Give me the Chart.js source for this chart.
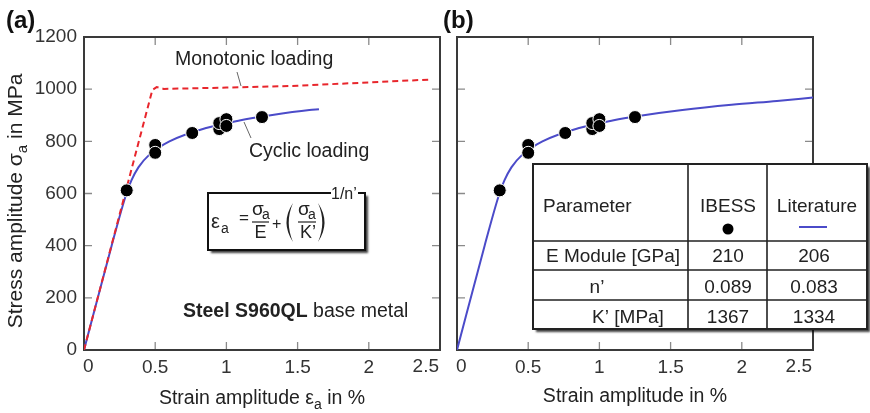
<!DOCTYPE html>
<html>
<head>
<meta charset="utf-8">
<script src="https://cdn.jsdelivr.net/npm/chart.js@4.4.1/dist/chart.umd.min.js"></script>
<style>
  html, body { margin: 0; padding: 0; background: #fff; }
  #wrap { position: relative; width: 870px; height: 413px; }
  #wrap canvas { position: absolute; left: 0; top: 0; }
</style>
</head>
<body>
<div id="wrap">
  <canvas id="panelA" width="870" height="413"></canvas>
  <canvas id="panelB" width="870" height="413"></canvas>
</div>
<script>
// ---- data ----
const strainTicks = [0, 0.5, 1, 1.5, 2, 2.5];
const stressTicks = [0, 200, 400, 600, 800, 1000, 1200];

// IBESS test results (strain amplitude in %, stress amplitude in MPa)
const testStrain = [0.30, 0.50, 0.50, 0.76, 0.95, 0.95, 1.00, 1.00, 1.25];
const testStress = [612, 786, 756, 832, 847, 870, 885, 859, 893];

// cyclic stress-strain curve, panel (a)
const cyclicStrainA = [0, 0.194, 0.298, 0.333, 0.382, 0.461, 0.600, 0.851, 1.092, 1.311, 1.583, 1.65];
const cyclicStressA = [0, 400, 600, 650, 700, 750, 800, 850, 880, 900, 920, 923];

// cyclic stress-strain curve, panel (b)
const cyclicStrainB = [0, 0.194, 0.298, 0.333, 0.382, 0.461, 0.600, 0.851, 1.092, 1.311, 1.583, 1.928, 2.247, 2.5];
const cyclicStressB = [0, 400, 600, 650, 700, 750, 800, 850, 880, 900, 920, 940, 955, 968];

// monotonic tensile curve
const monoStrain = [0, 0.48, 0.51, 0.56, 1.0, 1.5, 2.0, 2.44];
const monoStress = [0, 997, 1008, 1001, 1006, 1013, 1026, 1037];

// parameter table
const tableHeader = ['Parameter', 'IBESS', 'Literature'];
const paramNames = ['E Module [GPa]', 'n\u2019', 'K\u2019 [MPa]'];
const ibessValues = ['210', '0.089', '1367'];
const literatureValues = ['206', '0.083', '1334'];

// ---- styling ----
const FAMILY = '"Liberation Sans", Arial, Helvetica, sans-serif';
const font = (size, weight) => `${weight || 'normal'} ${size}px ${FAMILY}`;
const BLUE = '#4b4bc9';
const RED = '#e8262c';
const TEXT = '#222';
const TICK_TEXT = '#333';

const pts = (xs, ys) => xs.map((x, i) => ({ x, y: ys[i] }));

function drawRich(ctx, parts, x, y, align) {
  let w = 0;
  parts.forEach(p => { ctx.font = p.font; p.w = ctx.measureText(p.t).width; w += p.w; });
  let cx = align === 'center' ? x - w / 2 : align === 'right' ? x - w : x;
  ctx.textAlign = 'left';
  ctx.textBaseline = 'alphabetic';
  parts.forEach(p => { ctx.font = p.font; ctx.fillText(p.t, cx, y + (p.dy || 0)); cx += p.w; });
}

// thin crescent-shaped bracket; dir = -1 gives "(", +1 gives ")"
function bracket(ctx, x, top, bottom, dir) {
  const mid = (top + bottom) / 2;
  ctx.beginPath();
  ctx.moveTo(x, top);
  ctx.quadraticCurveTo(x + dir * 13, mid, x, bottom);
  ctx.quadraticCurveTo(x + dir * 8.5, mid, x, top);
  ctx.closePath();
  ctx.fill();
}

const firstStrain = strainTicks[0];
const lastStrain = strainTicks[strainTicks.length - 1];

// frame round the plot area with inward tick marks on all four sides;
// the end labels of the strain axis are kept inside the frame width
const framePlugin = {
  id: 'frame',
  beforeDatasetsDraw(chart) {
    const { ctx, chartArea: a, scales } = chart;
    ctx.save();
    ctx.strokeStyle = '#8a8a8a';
    ctx.lineWidth = 1.3;
    const L = 8;
    strainTicks.forEach(v => {
      if (v === firstStrain || v === lastStrain) return;
      const x = scales.x.getPixelForValue(v);
      ctx.beginPath();
      ctx.moveTo(x, a.bottom); ctx.lineTo(x, a.bottom - L);
      ctx.moveTo(x, a.top); ctx.lineTo(x, a.top + L);
      ctx.stroke();
    });
    stressTicks.forEach(v => {
      if (v === 0 || v === 1200) return;
      const y = scales.y.getPixelForValue(v);
      ctx.beginPath();
      ctx.moveTo(a.left, y); ctx.lineTo(a.left + L, y);
      ctx.moveTo(a.right, y); ctx.lineTo(a.right - L, y);
      ctx.stroke();
    });
    ctx.strokeStyle = '#3a3a3a';
    ctx.lineWidth = 2;
    ctx.strokeRect(a.left, a.top, a.right - a.left, a.bottom - a.top);

    ctx.fillStyle = TICK_TEXT;
    ctx.font = font(19);
    ctx.textBaseline = 'middle';
    ctx.textAlign = 'left';
    ctx.fillText(String(firstStrain), scales.x.getPixelForValue(firstStrain) - 1, a.bottom + 17);
    ctx.textAlign = 'right';
    ctx.fillText(String(lastStrain), scales.x.getPixelForValue(lastStrain) - 1, a.bottom + 17);
    ctx.restore();
  }
};

function commonScales(showY, yWidth) {
  return {
    x: {
      type: 'linear', min: 0, max: 2.5,
      afterBuildTicks: s => { s.ticks = strainTicks.map(v => ({ value: v })); },
      ticks: {
        font: { size: 19, family: FAMILY }, color: TICK_TEXT, padding: 6, maxRotation: 0, autoSkip: false,
        callback: v => (v === firstStrain || v === lastStrain) ? '' : String(v)
      },
      grid: { display: false, drawTicks: false },
      border: { display: false },
      afterFit: s => { s.height = 63; }
    },
    y: {
      type: 'linear', min: 0, max: 1200,
      afterBuildTicks: s => { s.ticks = stressTicks.map(v => ({ value: v })); },
      ticks: {
        display: showY, font: { size: 19, family: FAMILY }, color: TICK_TEXT, padding: 7, autoSkip: false,
        callback: v => String(v)
      },
      grid: { display: false, drawTicks: false },
      border: { display: false },
      afterFit: s => { s.width = yWidth; }
    }
  };
}

const pointStyle = {
  pointRadius: 6.5, pointBackgroundColor: '#000', pointBorderColor: '#fff', pointBorderWidth: 1,
  showLine: false
};

// ---- panel (a) annotations ----
const panelAText = {
  id: 'panelAText',
  afterDraw(chart) {
    const { ctx } = chart;
    ctx.save();
    ctx.fillStyle = '#111';
    ctx.font = font(24, 'bold');
    ctx.textAlign = 'left';
    ctx.textBaseline = 'alphabetic';
    ctx.fillText('(a)', 6, 28);

    ctx.fillStyle = TEXT;
    // axis titles
    drawRich(ctx, [
      { t: 'Strain amplitude ', font: font(19.5) },
      { t: '\u03b5', font: font(19.5) },
      { t: 'a', font: font(14), dy: 5 },
      { t: ' in %', font: font(19.5) }
    ], 262, 404, 'center');
    ctx.save();
    ctx.translate(21.5, 201);
    ctx.rotate(-Math.PI / 2);
    drawRich(ctx, [
      { t: 'Stress amplitude ', font: font(21) },
      { t: '\u03c3', font: font(21) },
      { t: 'a', font: font(15), dy: 5 },
      { t: ' in MPa', font: font(21) }
    ], 0, 0, 'center');
    ctx.restore();

    // curve labels with leader lines
    ctx.font = font(19.5);
    ctx.fillText('Monotonic loading', 175, 65);
    ctx.fillText('Cyclic loading', 249, 157);
    ctx.strokeStyle = '#666';
    ctx.lineWidth = 1;
    ctx.beginPath();
    ctx.moveTo(237, 72); ctx.lineTo(241, 86);
    ctx.moveTo(244, 122); ctx.lineTo(251, 138);
    ctx.stroke();

    // material label
    drawRich(ctx, [
      { t: 'Steel S960QL', font: font(19.5, 'bold') },
      { t: ' base metal', font: font(19.5) }
    ], 183, 317, 'left');

    // Ramberg-Osgood equation box
    ctx.save();
    ctx.shadowColor = 'rgba(0,0,0,0.75)';
    ctx.shadowBlur = 2;
    ctx.shadowOffsetX = 3;
    ctx.shadowOffsetY = 3;
    ctx.fillStyle = '#fff';
    ctx.fillRect(208, 193, 157, 57);
    ctx.restore();
    ctx.strokeStyle = '#111';
    ctx.lineWidth = 2;
    ctx.strokeRect(208, 193, 157, 57);

    ctx.fillStyle = TEXT;
    ctx.strokeStyle = TEXT;
    ctx.font = font(20);
    ctx.fillText('\u03b5', 211, 228);
    ctx.font = font(14);
    ctx.fillText('a', 221, 233);
    ctx.font = font(17);
    ctx.fillText('=', 239, 223);
    // sigma_a / E
    ctx.font = font(19);
    ctx.fillText('\u03c3', 252, 215);
    ctx.font = font(14);
    ctx.fillText('a', 262, 219);
    ctx.lineWidth = 1.2;
    ctx.beginPath(); ctx.moveTo(252, 222); ctx.lineTo(269, 222); ctx.stroke();
    ctx.font = font(18);
    ctx.textAlign = 'center';
    ctx.fillText('E', 260.5, 238);
    ctx.textAlign = 'left';
    ctx.font = font(16);
    ctx.fillText('+', 272, 229);
    // ( sigma_a / K' )
    bracket(ctx, 293, 203, 242, -1);
    ctx.font = font(19);
    ctx.fillText('\u03c3', 298, 215);
    ctx.font = font(14);
    ctx.fillText('a', 308, 219);
    ctx.beginPath(); ctx.moveTo(298, 222); ctx.lineTo(316, 222); ctx.stroke();
    ctx.font = font(18);
    ctx.textAlign = 'center';
    ctx.fillText('K\u2019', 308, 238);
    ctx.textAlign = 'left';
    bracket(ctx, 318, 203, 242, 1);
    // exponent 1/n'
    ctx.fillStyle = '#fff';
    ctx.fillRect(331, 190, 27, 6);
    ctx.fillStyle = TEXT;
    ctx.font = font(16);
    ctx.fillText('1/n\u2019', 331, 199);
    ctx.restore();
  }
};

// ---- panel (b) annotations and parameter table ----
const panelBText = {
  id: 'panelBText',
  afterDraw(chart) {
    const { ctx } = chart;
    ctx.save();
    ctx.fillStyle = '#111';
    ctx.font = font(24, 'bold');
    ctx.textAlign = 'left';
    ctx.textBaseline = 'alphabetic';
    ctx.fillText('(b)', 443, 28);

    ctx.fillStyle = TEXT;
    ctx.font = font(19.5);
    ctx.textAlign = 'center';
    ctx.fillText('Strain amplitude in %', 635, 402);

    // table
    const L = 533, T = 164, R = 867, B = 329;
    const cols = [688, 767];
    const rows = [241, 270, 300];
    ctx.save();
    ctx.shadowColor = 'rgba(0,0,0,0.75)';
    ctx.shadowBlur = 2;
    ctx.shadowOffsetX = 3;
    ctx.shadowOffsetY = 3;
    ctx.fillStyle = '#fff';
    ctx.fillRect(L, T, R - L, B - T);
    ctx.restore();
    ctx.strokeStyle = '#222';
    ctx.lineWidth = 1.6;
    ctx.beginPath();
    cols.forEach(x => { ctx.moveTo(x, T); ctx.lineTo(x, B); });
    rows.forEach(y => { ctx.moveTo(L, y); ctx.lineTo(R, y); });
    ctx.stroke();
    ctx.lineWidth = 2;
    ctx.strokeRect(L, T, R - L, B - T);

    ctx.fillStyle = TEXT;
    ctx.font = font(19);
    ctx.textAlign = 'left';
    ctx.fillText(tableHeader[0], 543, 212);
    ctx.textAlign = 'center';
    ctx.fillText(tableHeader[1], 728, 212);
    ctx.fillText(tableHeader[2], 817, 212);
    // legend marks under the headers
    ctx.fillStyle = '#000';
    ctx.beginPath(); ctx.arc(728, 229, 5.5, 0, Math.PI * 2); ctx.fill();
    ctx.strokeStyle = BLUE;
    ctx.lineWidth = 2;
    ctx.beginPath(); ctx.moveTo(799, 227); ctx.lineTo(827, 227); ctx.stroke();

    ctx.fillStyle = TEXT;
    const nameX = [613, 597, 628];
    const baseY = [262, 293, 323];
    paramNames.forEach((n, i) => {
      ctx.fillText(n, nameX[i], baseY[i]);
      ctx.fillText(ibessValues[i], 728, baseY[i]);
      ctx.fillText(literatureValues[i], 814, baseY[i]);
    });
    ctx.restore();
  }
};

const baseOptions = {
  responsive: false,
  animation: false,
  events: [],
  plugins: { legend: { display: false }, tooltip: { enabled: false } }
};

new Chart(document.getElementById('panelA'), {
  type: 'scatter',
  data: {
    datasets: [
      Object.assign({ label: 'IBESS', data: pts(testStrain, testStress), order: 0 }, pointStyle),
      {
        label: 'Monotonic loading', data: pts(monoStrain, monoStress), order: 1,
        showLine: true, borderColor: RED, borderWidth: 2, borderDash: [6, 4], pointRadius: 0, tension: 0
      },
      {
        label: 'Cyclic loading', data: pts(cyclicStrainA, cyclicStressA), order: 2,
        showLine: true, borderColor: BLUE, borderWidth: 2, pointRadius: 0, cubicInterpolationMode: 'monotone'
      }
    ]
  },
  options: Object.assign({}, baseOptions, {
    layout: { padding: { top: 37, right: 430, left: 0, bottom: 0 } },
    scales: commonScales(true, 84)
  }),
  plugins: [framePlugin, panelAText]
});

new Chart(document.getElementById('panelB'), {
  type: 'scatter',
  data: {
    datasets: [
      Object.assign({ label: 'IBESS', data: pts(testStrain, testStress), order: 0 }, pointStyle),
      {
        label: 'Literature', data: pts(cyclicStrainB, cyclicStressB), order: 1,
        showLine: true, borderColor: BLUE, borderWidth: 2, pointRadius: 0, cubicInterpolationMode: 'monotone'
      }
    ]
  },
  options: Object.assign({}, baseOptions, {
    layout: { padding: { top: 37, right: 57, left: 445, bottom: 0 } },
    scales: commonScales(false, 12)
  }),
  plugins: [framePlugin, panelBText]
});
</script>
</body>
</html>
